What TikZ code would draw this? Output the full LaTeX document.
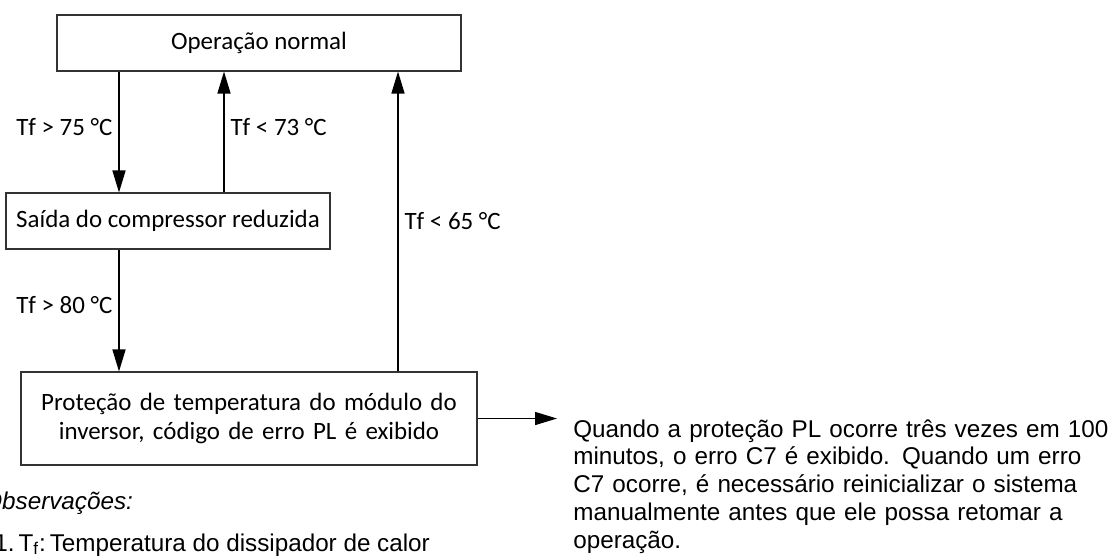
\documentclass[tikz,border=0pt]{standalone}
\usepackage{fontspec}
\setmainfont{Carlito}
\newfontfamily\notefont{Liberation Sans}
\usetikzlibrary{arrows.meta}
\begin{document}
\begin{tikzpicture}[
        x=0.02cm, y=-0.02cm,
        box/.style={rectangle, draw=black!80, line width=0.6pt, font=\fontsize{14.2}{17}\selectfont, align=center},
        cond/.style={font=\fontsize{14.2}{17}\selectfont},
        arrow/.style={-{Triangle[length=0.44cm, width=0.26cm]}, line width=0.8pt},
        note/.style={font=\notefont\fontsize{13.8}{15.9}\selectfont, align=left, inner sep=0pt}
    ]
        \useasboundingbox (0,0) rectangle (1115,556);

        % States
        \node[box, minimum width=404*0.02cm, minimum height=56*0.02cm] (normal) at (259, 43) {Operação normal};
        \node[box, minimum width=324*0.02cm, minimum height=56*0.02cm] (reduced) at (168, 221) {Saída do compressor reduzida};
        \node[box, minimum width=456*0.02cm, minimum height=93*0.02cm, text width=440*0.02cm] (protect) at (249, 418.5) {Proteção de temperatura do módulo do\\inversor, código de erro PL é exibido};

        % Note text
        \node[note, anchor=north west, text width=580*0.02cm] (c7note) at (573, 419) {Quando a proteção PL ocorre três vezes em 100\\minutos, o erro C7 é exibido. Quando um erro\\C7 ocorre, é necessário reinicializar o sistema\\manualmente antes que ele possa retomar a\\operação.};

        % Remarks
        \node[note, anchor=base west, font=\notefont\itshape\fontsize{13.8}{15.9}\selectfont] (obs) at (-17, 509) {Observações:};
        \node[note, anchor=base west] (tfnote) at (-6, 551) {1.\,T\textsubscript{f}:\,Temperatura do dissipador de calor};

        % Connections
        \draw[arrow] (normal.south -| 119,0) -- (reduced.north -| 119,0) node[cond, midway, left, yshift=0.1cm] {Tf > 75 °C};
        \draw[arrow] (reduced.north -| 224,0) -- (normal.south -| 224,0) node[cond, midway, right, yshift=0.1cm] {Tf < 73 °C};
        \draw[arrow] (reduced.south -| 119,0) -- (protect.north -| 119,0) node[cond, midway, left, yshift=0.1cm] {Tf > 80 °C};
        \draw[arrow] (protect.north -| 398,0) -- (normal.south -| 398,0) node[cond, midway, right] {Tf < 65 °C};
        \draw[arrow] (protect.east) -- (protect.east -| 557,0);
    \end{tikzpicture}
\end{document}
